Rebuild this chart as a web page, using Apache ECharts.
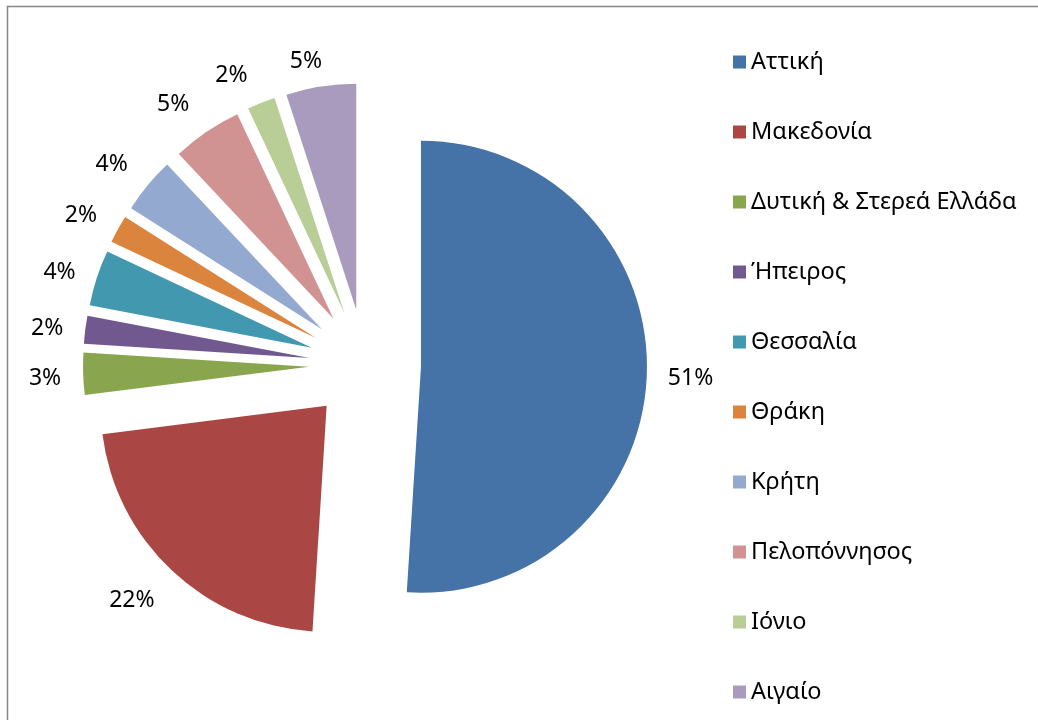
<!DOCTYPE html>
<html>
<head>
<meta charset="utf-8">
<script src="https://cdn.jsdelivr.net/npm/echarts@6/dist/echarts.min.js"></script>
<style>
html,body{margin:0;padding:0;background:#fff;}
#chart{width:1038px;height:720px;}
</style>
</head>
<body>
<div id="chart"></div>
<script>
const regions = ['Αττική','Μακεδονία','Δυτική & Στερεά Ελλάδα','Ήπειρος','Θεσσαλία','Θράκη','Κρήτη','Πελοπόννησος','Ιόνιο','Αιγαίο'];
const shares = [51, 22, 3, 2, 4, 2, 4, 5, 2, 5];
const colors = ['#4572A7','#AA4643','#89A54E','#71588F','#4198AF','#DB843D','#93A9CF','#D19392','#B9CD96','#A99BBD'];

const chart = echarts.init(document.getElementById('chart'));
const FONT = '"Noto Sans", sans-serif';
// fine label nudges (px) to mimic the original label placement
const labelNudge = [[-2,4],[0,17],[1,4],[1,1],[1,0],[0,-5],[-1,-9],[-2,-12],[-2,-11],[9,-7]];
chart.setOption({
  animation: false,
  color: colors,
  graphic: [{
    type: 'rect',
    shape: {x: 7.5, y: 6.5, width: 1100, height: 800},
    style: {fill: 'none', stroke: '#868686', lineWidth: 1.5},
    silent: true
  }],
  legend: {
    orient: 'vertical',
    left: 728,
    top: 45,
    itemWidth: 13,
    itemHeight: 13,
    itemGap: 46,
    icon: 'rect',
    selectedMode: false,
    textStyle: {fontFamily: FONT, fontSize: 23.5, color: '#000', lineHeight: 24},
    data: regions
  },
  series: [{
    type: 'pie',
    center: [365, 365],
    radius: [0, 226],
    startAngle: 90,
    clockwise: true,
    selectedMode: 'multiple',
    selectedOffset: 56,
    avoidLabelOverlap: false,
    percentPrecision: 0,
    itemStyle: {borderWidth: 0},
    emphasis: {disabled: true},
    label: {
      show: true,
      position: 'outside',
      formatter: '{d}%',
      fontFamily: FONT,
      fontSize: 23,
      color: '#000',
      distanceToLabelLine: 5
    },
    labelLine: {show: false, length: 18, length2: 0},
    labelLayout: function (p) {
      const n = labelNudge[p.dataIndex] || [0, 0];
      return {dx: n[0], dy: n[1]};
    },
    data: regions.map((name, i) => ({name: name, value: shares[i], selected: true}))
  }]
});
</script>
</body>
</html>
